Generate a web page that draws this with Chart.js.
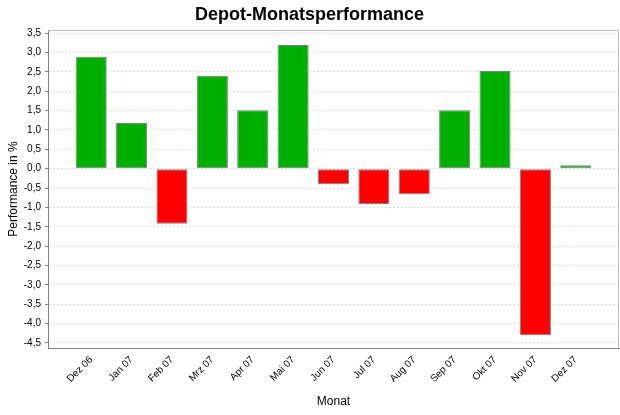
<!DOCTYPE html>
<html>
<head>
<meta charset="utf-8">
<script src="https://cdn.jsdelivr.net/npm/chart.js@4"></script>
<style>
  html, body { margin: 0; padding: 0; background: #fff; }
  #wrap { width: 620px; height: 415px; }
</style>
</head>
<body>
<div id="wrap"><canvas id="perf"></canvas></div>
<script>
const months = ['Dez 06', 'Jan 07', 'Feb 07', 'Mrz 07', 'Apr 07', 'Mai 07', 'Jun 07',
                'Jul 07', 'Aug 07', 'Sep 07', 'Okt 07', 'Nov 07', 'Dez 07'];
const performance = [2.89, 1.18, -1.42, 2.40, 1.51, 3.19, -0.40, -0.91, -0.66, 1.51, 2.52, -4.30, 0.09];
const yTicks = [3.5, 3.0, 2.5, 2.0, 1.5, 1.0, 0.5, 0.0, -0.5, -1.0, -1.5, -2.0, -2.5, -3.0, -3.5, -4.0, -4.5];

// Rahmen um die Plotfläche (oben/rechts hellgrau)
const plotBorder = {
  id: 'plotBorder',
  afterDraw(chart) {
    const { ctx, chartArea: a } = chart;
    ctx.save();
    ctx.strokeStyle = '#c0c0c0';
    ctx.lineWidth = 1;
    ctx.beginPath();
    ctx.moveTo(a.left, a.top + 0.5);
    ctx.lineTo(a.right - 0.5, a.top + 0.5);
    ctx.lineTo(a.right - 0.5, a.bottom);
    ctx.stroke();
    ctx.restore();
  }
};

new Chart(document.getElementById('perf'), {
  type: 'bar',
  data: {
    datasets: [{
      data: performance.map((v, i) => ({ x: i, y: v })),
      backgroundColor: performance.map(v => v >= 0 ? '#00b000' : '#ff0000'),
      borderColor: '#808080',
      borderWidth: 1,
      borderSkipped: false,
      categoryPercentage: 1,
      barPercentage: 0.77,
    }]
  },
  options: {
    responsive: true,
    maintainAspectRatio: false,
    animation: false,
    layout: { padding: { top: 0, right: 1, left: 0, bottom: 0 } },
    plugins: {
      legend: { display: false },
      tooltip: { enabled: false },
      title: {
        display: true,
        text: 'Depot-Monatsperformance',
        color: '#000',
        font: { family: 'Liberation Sans, Arial, sans-serif', size: 18, weight: 'bold', lineHeight: 1.2 },
        padding: { top: 4, bottom: 4.4 },
      },
    },
    scales: {
      x: {
        type: 'linear',
        offset: false,
        min: -1.07,
        max: 13.07,
        afterBuildTicks: (scale) => { scale.ticks = months.map((_, i) => ({ value: i })); },
        afterFit: (scale) => { scale.height = 67; },
        ticks: {
          color: '#000',
          minRotation: 45,
          maxRotation: 45,
          padding: 4,
          font: { family: 'Liberation Sans, Arial, sans-serif', size: 10 },
          callback: (v) => months[v],
        },
        grid: { display: true, offset: false, drawOnChartArea: false, drawTicks: true, tickLength: 2, tickColor: 'rgba(0,0,0,0)' },
        border: { display: true, color: '#808080' },
        title: {
          display: true,
          text: 'Monat',
          color: '#000',
          font: { family: 'Liberation Sans, Arial, sans-serif', size: 12 },
          padding: { top: 4, bottom: 6 },
        },
      },
      y: {
        min: -4.63,
        max: 3.58,
        afterBuildTicks: (scale) => { scale.ticks = yTicks.map(v => ({ value: v })); },
        afterFit: (scale) => { scale.width = 48; },
        ticks: {
          color: '#000',
          padding: 4,
          font: { family: 'Liberation Sans, Arial, sans-serif', size: 10 },
          callback: (v) => v.toFixed(1).replace('.', ','),
        },
        grid: {
          color: '#dcdcdc',
          tickColor: '#808080',
          tickLength: 3,
          tickBorderDash: [],
        },
        border: { display: true, color: '#808080', dash: [2, 2] },
        title: {
          display: true,
          text: 'Performance in %',
          color: '#000',
          font: { family: 'Liberation Sans, Arial, sans-serif', size: 12 },
          padding: { top: 6, bottom: 0 },
        },
      },
    },
  },
  plugins: [plotBorder],
});
</script>
</body>
</html>
